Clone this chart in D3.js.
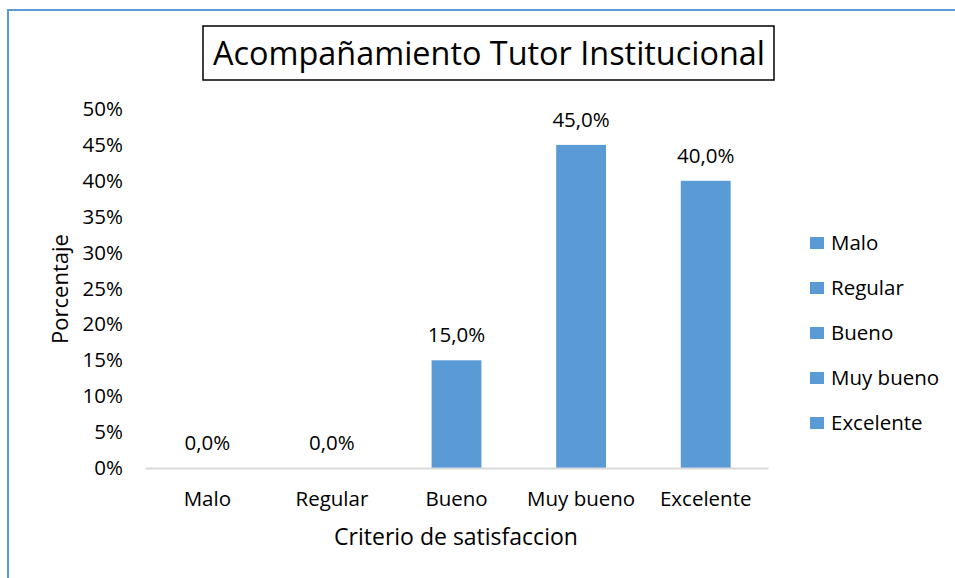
<!DOCTYPE html>
<html>
<head>
<meta charset="utf-8">
<script src="https://cdn.jsdelivr.net/npm/d3@7"></script>
<style>
  body { margin: 0; background: #fff; }
  text { font-family: "Open Sans", sans-serif; fill: #000; }
</style>
</head>
<body>
<div id="chart"></div>
<script>
var categories = ["Malo", "Regular", "Bueno", "Muy bueno", "Excelente"],
    values = [0, 0, 15, 45, 40],
    yTicks = [0, 5, 10, 15, 20, 25, 30, 35, 40, 45, 50];

var width = 955,
    height = 578,
    margin = {top: 109, right: 187, bottom: 110, left: 145},
    barColor = "#5b9bd5",
    fontSize = "20.5px";

var svg = d3.select("#chart")
    .append("svg")
    .attr("width", width)
    .attr("height", height);

// outer blue frame (runs off the picture at right and bottom)
svg.append("rect")
    .attr("x", 8).attr("y", 10)
    .attr("width", 1000).attr("height", 1000)
    .attr("fill", "none")
    .attr("stroke", barColor)
    .attr("stroke-width", 2);

// title with box
svg.append("rect")
    .attr("x", 203).attr("y", 26)
    .attr("width", 571).attr("height", 54)
    .attr("fill", "#fff")
    .attr("stroke", "#000")
    .attr("stroke-width", 1.5);

svg.append("text")
    .attr("x", 489).attr("y", 65)
    .attr("text-anchor", "middle")
    .style("font-size", "32.4px")
    .text("Acompañamiento Tutor Institucional");

var g = svg.append("g")
    .attr("transform", `translate(${margin.left},${margin.top})`);

var w = width - margin.left - margin.right,
    h = height - margin.top - margin.bottom;

var x = d3.scaleBand()
    .domain(categories)
    .range([0, w])
    .paddingInner(0.6)
    .paddingOuter(0.3);

var y = d3.scaleLinear()
    .domain([0, 50])
    .range([h, 0]);

// y axis labels only
var yAxis = g.append("g")
    .call(d3.axisLeft(y).tickValues(yTicks).tickSize(0).tickPadding(22).tickFormat(function(d) { return d + "%"; }));
yAxis.select(".domain").remove();
yAxis.selectAll("text").style("font-size", fontSize).style("font-family", "'Open Sans', sans-serif").attr("fill", "#000");

// bars
g.selectAll(".bar")
    .data(values)
    .enter().append("rect")
    .attr("class", "bar")
    .attr("x", function(d, i) { return x(categories[i]); })
    .attr("y", function(d) { return y(d); })
    .attr("width", x.bandwidth())
    .attr("height", function(d) { return h - y(d); })
    .attr("fill", barColor);

// x axis
var xAxis = g.append("g")
    .attr("transform", `translate(0,${h})`)
    .call(d3.axisBottom(x).tickSize(0).tickPadding(23));
xAxis.select(".domain").attr("stroke", "#d9d9d9").attr("stroke-width", 2);
xAxis.selectAll("text").style("font-size", fontSize).style("font-family", "'Open Sans', sans-serif").attr("fill", "#000");

// value labels
g.selectAll(".lbl")
    .data(values)
    .enter().append("text")
    .attr("class", "lbl")
    .attr("x", function(d, i) { return x(categories[i]) + x.bandwidth() / 2; })
    .attr("y", function(d) { return y(d) - 18; })
    .attr("text-anchor", "middle")
    .style("font-size", fontSize)
    .text(function(d) { return d.toFixed(1).replace(".", ",") + "%"; });

// axis titles
svg.append("text")
    .attr("transform", "translate(68,289) rotate(-90)")
    .attr("text-anchor", "middle")
    .style("font-size", "22px")
    .text("Porcentaje");

svg.append("text")
    .attr("x", 456).attr("y", 545)
    .attr("text-anchor", "middle")
    .style("font-size", "23px")
    .text("Criterio de satisfaccion");

// legend
var legend = svg.append("g")
    .attr("transform", "translate(810,243)");

var item = legend.selectAll(".item")
    .data(categories)
    .enter().append("g")
    .attr("class", "item")
    .attr("transform", function(d, i) { return `translate(0,${i * 45})`; });

item.append("rect")
    .attr("x", 0).attr("y", -6)
    .attr("width", 14).attr("height", 12)
    .attr("fill", barColor);

item.append("text")
    .attr("x", 21).attr("y", 7)
    .style("font-size", fontSize)
    .text(function(d) { return d; });
</script>
</body>
</html>
